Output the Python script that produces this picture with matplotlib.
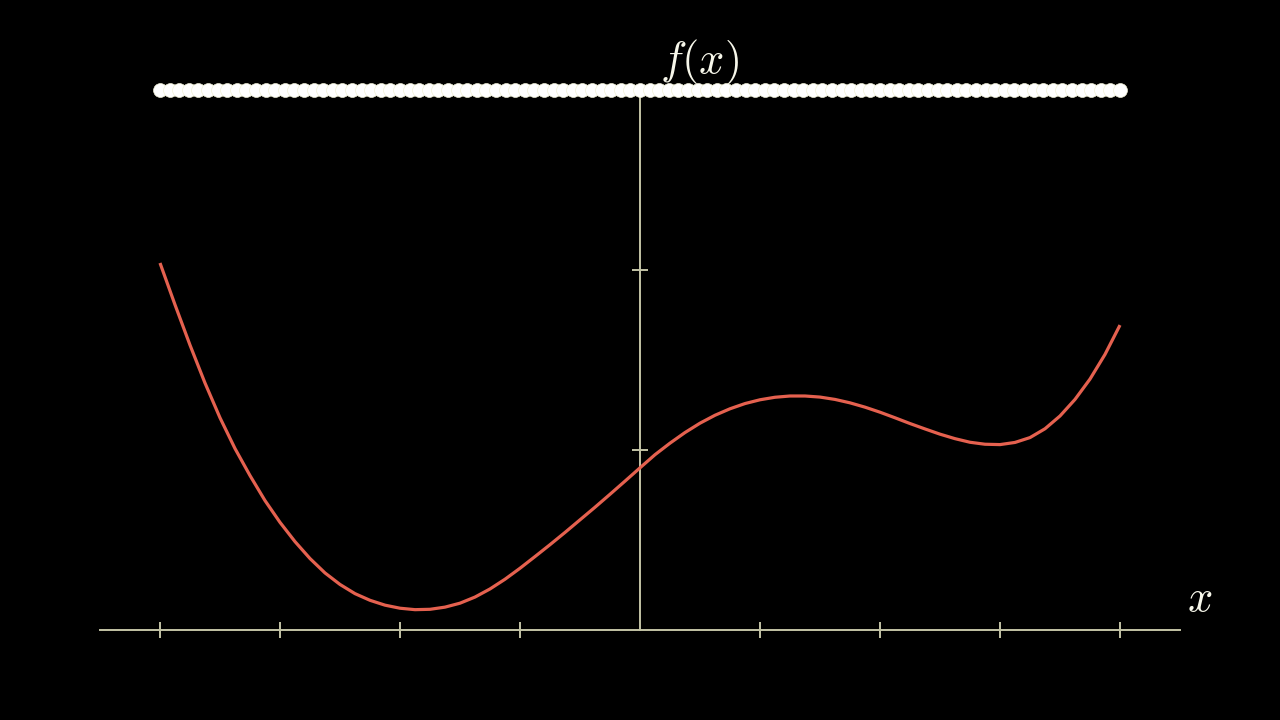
import numpy as np
import matplotlib
matplotlib.use('Agg')
import matplotlib.pyplot as plt

# f(x) every 0.125 from x = -4 to x = 4
curve_y = [2.039, 1.807, 1.583, 1.372, 1.179, 1.008, 0.858, 0.719, 0.598, 0.491,
           0.397, 0.317, 0.253, 0.202, 0.165, 0.138, 0.121, 0.113, 0.115, 0.127,
           0.149, 0.183, 0.228, 0.282, 0.343, 0.408, 0.474, 0.542, 0.612, 0.682,
           0.754, 0.827, 0.901, 0.974, 1.038, 1.097, 1.149, 1.193, 1.229, 1.258,
           1.279, 1.293, 1.300, 1.300, 1.294, 1.281, 1.262, 1.238, 1.210, 1.179,
           1.147, 1.117, 1.088, 1.063, 1.043, 1.032, 1.030, 1.042, 1.069, 1.118,
           1.189, 1.281, 1.394, 1.531, 1.694]
curve_x = np.linspace(-4, 4, len(curve_y))

x_ticks = [-4, -3, -2, -1, 1, 2, 3, 4]
y_ticks = [1, 2]

# row of sample dots along the top
dot_x = np.linspace(-4, 4, 101)
dot_y = np.full_like(dot_x, 3.0)

axis_color = '#c4c4a6'
curve_color = '#e5614f'
text_color = '#f7f7ea'

plt.rcParams['mathtext.fontset'] = 'cm'

fig = plt.figure(figsize=(12.8, 7.2), dpi=100, facecolor='black')
ax = fig.add_axes([0, 0, 1, 1])
ax.set_facecolor('black')
ax.set_xlim(-640 / 120, 640 / 120)
ax.set_ylim(-90 / 180, 630 / 180)
ax.axis('off')

# axes
ax.plot([-4.5, 4.5], [0, 0], color=axis_color, lw=1.4, zorder=1)
ax.plot([0, 0], [0, 3.0], color=axis_color, lw=1.4, zorder=1)
ax.plot(x_ticks, [0] * len(x_ticks), ls='none', marker='|', ms=11.5,
        mew=1.4, color=axis_color, zorder=1)
ax.plot([0] * len(y_ticks), y_ticks, ls='none', marker='_', ms=11.5,
        mew=1.4, color=axis_color, zorder=1)

# graph
ax.plot(curve_x, curve_y, color=curve_color, lw=2.3, solid_joinstyle='round',
        solid_capstyle='butt', zorder=3)

# labels
ax.text(0.5, (630 - 73) / 180, r'$f(x)$', color=text_color, fontsize=32,
        ha='center', va='baseline', zorder=2)
ax.text((1200 - 640) / 120, (630 - 611) / 180, r'$x$', color=text_color, fontsize=32,
        ha='center', va='baseline', zorder=2)

# dots
ax.scatter(dot_x, dot_y, s=100, color='#ffffff', edgecolors='#f0f0d6',
           linewidths=0.5, zorder=4)

fig.savefig('out.png', dpi=100, facecolor='black')
